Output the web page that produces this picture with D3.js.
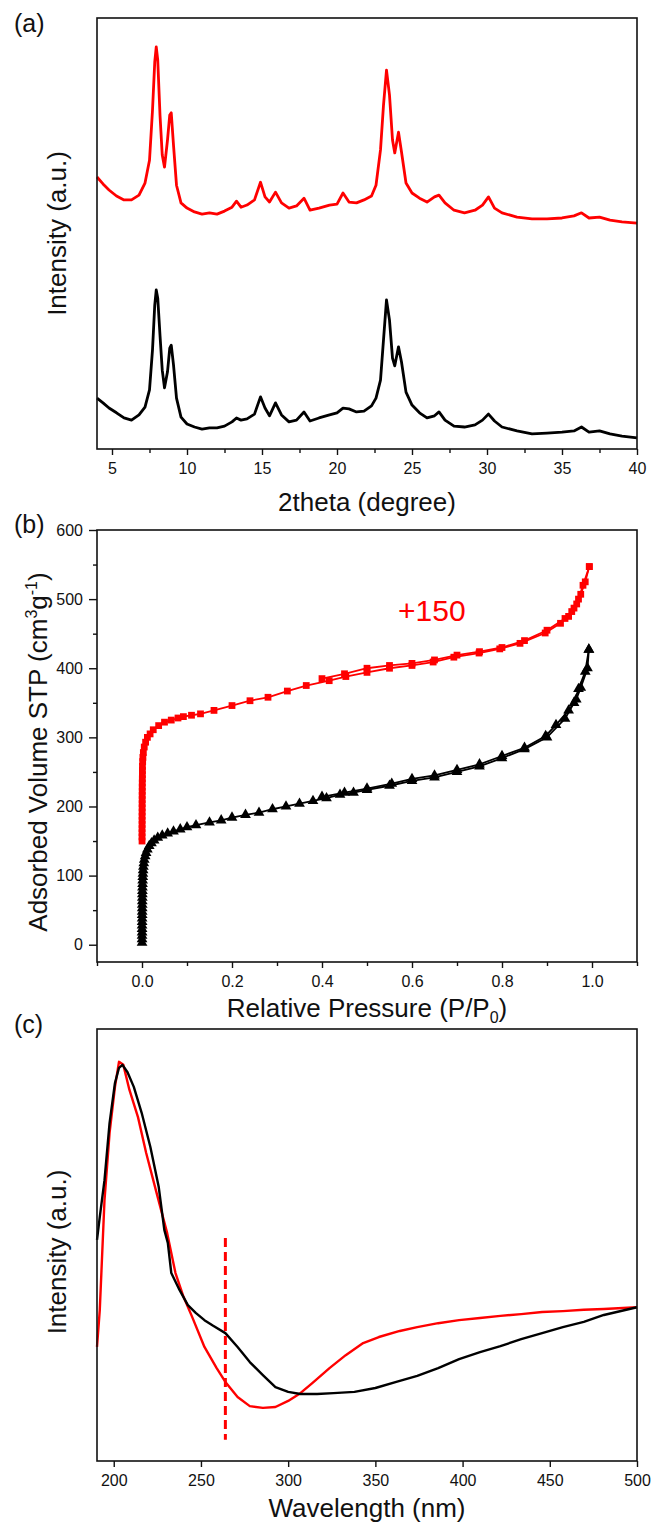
<!DOCTYPE html>
<html>
<head>
<meta charset="utf-8">
<script src="https://cdn.jsdelivr.net/npm/d3@7"></script>
<style>
  body { margin: 0; background: #fff; }
  svg { display: block; }
  text { font-family: "Liberation Sans", Arial, sans-serif; fill: #111; }
</style>
</head>
<body>
<svg id="fig" width="653" height="1528"></svg>
<script>
// ---------- (a) XRD patterns ----------
const xrdAngle = [4, 4.4, 4.8, 5.3, 5.8, 6.3, 6.8, 7.2, 7.5, 7.7, 7.85, 7.95, 8.05, 8.2, 8.35, 8.5, 8.7, 8.85, 8.95, 9.1,
  9.3, 9.6, 10, 10.5, 11, 11.5, 12, 12.5, 13, 13.3, 13.6, 14, 14.5, 14.9, 15.2, 15.5, 15.9, 16.3, 16.8, 17.3,
  17.8, 18.2, 18.8, 19.5, 20, 20.4, 20.8, 21.3, 21.8, 22.3, 22.6, 22.9, 23.1, 23.3, 23.5, 23.7, 23.85, 24.1, 24.3, 24.6,
  25, 25.5, 26, 26.5, 26.8, 27.2, 27.8, 28.5, 29.2, 29.7, 30.1, 30.5, 31, 32, 33, 34, 35, 35.8, 36.3, 36.8,
  37.5, 38.2, 39, 40];
const xrdBlack = [118, 107, 95, 84, 72, 67, 79, 97, 137, 230, 334, 369, 350, 264, 183, 142, 179, 234, 241, 195,
  118, 74, 58, 51, 46, 49, 49, 53, 63, 72, 67, 70, 81, 121, 95, 77, 107, 79, 63, 67,
  86, 65, 72, 79, 84, 95, 93, 86, 88, 100, 118, 160, 253, 346, 299, 211, 193, 237, 202, 132,
  102, 84, 72, 77, 86, 67, 53, 51, 56, 67, 81, 65, 51, 42, 35, 37, 39, 42, 51, 39,
  42, 35, 30, 26];
const xrdRed = [631, 615, 601, 587, 578, 578, 589, 617, 670, 786, 898, 933, 902, 775, 682, 654, 717, 775, 780, 705,
  612, 571, 559, 550, 545, 548, 545, 552, 561, 575, 561, 566, 578, 619, 585, 573, 596, 571, 559, 564,
  582, 554, 559, 566, 568, 594, 573, 571, 578, 587, 612, 694, 798, 879, 821, 717, 687, 735, 689, 617,
  594, 582, 573, 585, 589, 571, 554, 548, 554, 566, 585, 559, 548, 538, 534, 534, 536, 541, 548, 536,
  538, 531, 527, 524];
const xrdMajorTicks = [5, 10, 15, 20, 25, 30, 35, 40];
const xrdMinorTicks = [7.5, 12.5, 17.5, 22.5, 27.5, 32.5, 37.5];

// ---------- (b) N2 isotherms (P/P0, cm3/g) ----------
const blackAdsP = [0.0001, 0.0001, 0.0001, 0.0002, 0.0002, 0.0002, 0.0003, 0.0003, 0.0004, 0.0004, 0.0005, 0.0005, 0.0006,
  0.0007, 0.0008, 0.0009, 0.001, 0.0012, 0.0014, 0.0017, 0.002, 0.0025, 0.003, 0.004, 0.005, 0.007, 0.009, 0.012,
  0.016, 0.021, 0.027, 0.035, 0.045, 0.057, 0.07, 0.085, 0.1, 0.12, 0.15, 0.176, 0.2, 0.23, 0.26, 0.29, 0.32,
  0.35, 0.38, 0.41, 0.44, 0.47, 0.5, 0.55, 0.6, 0.65, 0.7, 0.75, 0.8, 0.85, 0.9, 0.94, 0.96, 0.97, 0.985, 0.993];
const blackAdsV = [3, 8, 13, 18, 23, 28, 33, 38, 43, 48, 53, 58, 63,
  68, 73, 78, 83, 88, 93, 98, 103, 108, 113, 118, 123, 128, 133, 138,
  143, 147, 151, 155, 158, 161, 164, 167, 170, 173, 177, 180, 184, 188, 191, 196, 200,
  204, 208, 212, 217, 220, 224, 230, 237, 242, 250, 258, 270, 283, 300, 327, 350, 370, 395, 427];
const blackDesP = [0.993, 0.99, 0.975, 0.965, 0.948, 0.92, 0.897, 0.85, 0.8, 0.75, 0.7, 0.65, 0.6, 0.555, 0.5, 0.45, 0.4];
const blackDesV = [427, 400, 372, 355, 339, 318, 302, 285, 273, 261, 253, 245, 240, 233, 226, 220, 214];

const redOffset = 150;
const redAdsP = [0.0001, 0.0001, 0.0001, 0.0001, 0.0002, 0.0002, 0.0002, 0.0003, 0.0003, 0.0003, 0.0004, 0.0004, 0.0005,
  0.0005, 0.0006, 0.0007, 0.0008, 0.0009, 0.001, 0.0015, 0.002, 0.003, 0.005, 0.008, 0.012, 0.018, 0.025, 0.037,
  0.05, 0.065, 0.08, 0.092, 0.11, 0.13, 0.16, 0.2, 0.24, 0.28, 0.323, 0.365, 0.416, 0.453, 0.5, 0.55, 0.6,
  0.647, 0.693, 0.749, 0.795, 0.84, 0.896, 0.93, 0.948, 0.96, 0.97, 0.98, 0.994];
const redAdsV = [0, 6, 12, 18, 24, 30, 36, 42, 48, 54, 60, 66, 72,
  78, 84, 90, 96, 102, 108, 115, 121, 128, 136, 143, 150, 155, 161, 167,
  172, 175, 178, 180, 182, 184, 189, 196, 203, 208, 217, 225, 232, 238, 244, 250, 254,
  259, 266, 272, 278, 286, 301, 315, 325, 337, 350, 370, 397];
const redDesP = [0.994, 0.985, 0.975, 0.966, 0.955, 0.94, 0.9, 0.85, 0.8, 0.75, 0.7, 0.65, 0.6, 0.55, 0.5, 0.45, 0.4];
const redDesV = [397, 375, 357, 343, 332, 322, 305, 290, 280, 274, 269, 262, 257, 254, 250, 242, 235];

const isoXMajor = [0, 0.2, 0.4, 0.6, 0.8, 1.0];
const isoXMinor = [-0.1, 0.1, 0.3, 0.5, 0.7, 0.9, 1.1];
const isoYMajor = [0, 100, 200, 300, 400, 500, 600];
const isoYMinor = [50, 150, 250, 350, 450, 550];

// ---------- (c) UV-vis spectra ----------
const uvRedNm = [190.4, 192, 194.7, 197.6, 200.7, 203, 205.5, 209, 213.9, 218.6, 224.6, 230.6, 235.4, 240, 245, 252,
  259, 264, 271, 278, 285.5, 292.7, 300, 307, 314, 323.7, 333, 343, 352, 364, 374, 386, 398, 410, 421.7, 433.6,
  445.6, 457.5, 469.5, 481, 500];
const uvRed = [26.4, 35.0, 60.4, 75.9, 86.6, 92.4, 91.7, 85.9, 79.6, 71.3, 62.0, 52.8, 43.5, 38.0, 33.3, 26.4,
  21.5, 18.3, 14.8, 12.7, 12.3, 12.5, 13.9, 15.7, 18.1, 21.5, 24.5, 27.3, 28.7, 30.1, 31.0, 31.9, 32.6, 33.1, 33.6, 34.0,
  34.5, 34.7, 35.0, 35.2, 35.6];
const uvBlackNm = [190.4, 192, 194.7, 197.6, 200.7, 203, 205, 207.9, 211.5, 216, 221, 225.8, 229, 231, 233, 237.7,
  242.5, 247, 252, 257, 264, 271, 278, 285.5, 292.7, 300, 307, 316.6, 326, 338, 350, 362, 374, 386, 398, 410,
  421.7, 433.6, 445.6, 457.5, 469.5, 481, 500];
const uvBlack = [51.2, 56.5, 65.0, 78.2, 87.5, 91.0, 91.7, 90.0, 86.6, 80.6, 72.7, 63.4, 53.5, 50.5, 43.5, 39.6,
  36.1, 34.3, 32.6, 31.3, 29.6, 26.4, 22.9, 19.9, 17.1, 16.0, 15.5, 15.5, 15.7, 16.0, 16.9, 18.3, 19.7, 21.5, 23.6, 25.2,
  26.6, 28.2, 29.6, 31.0, 32.2, 33.8, 35.6];
const uvMarkerNm = 264;
const uvMarkerRange = [4.9, 51.6];
const uvXTicks = [200, 250, 300, 350, 400, 450, 500];

// ---------- drawing ----------
const svg = d3.select("#fig");
const L = 97, R = 637;
const INK = "#111";
const RED = "#ff0000";
const panels = {
  a: { top: 18, bottom: 449 },
  b: { top: 530, bottom: 962 },
  c: { top: 1029, bottom: 1461 }
};

function frame(p) {
  svg.append("rect")
    .attr("x", L).attr("y", p.top)
    .attr("width", R - L).attr("height", p.bottom - p.top)
    .attr("fill", "none").attr("stroke", INK).attr("stroke-width", 1.6);
}

function styleAxis(g) {
  g.select(".domain").remove();
  g.selectAll(".tick line").attr("stroke", INK).attr("stroke-width", 1.4);
  g.selectAll(".tick text").attr("font-size", 16).attr("fill", INK)
    .attr("font-family", '"Liberation Sans", Arial, sans-serif');
}

function bottomAxis(scale, y, majors, minors, fmt) {
  const g = svg.append("g").attr("transform", `translate(0,${y})`)
    .call(d3.axisBottom(scale).tickValues(majors).tickSize(6).tickSizeOuter(0).tickPadding(8).tickFormat(fmt));
  styleAxis(g);
  if (minors && minors.length) {
    const m = svg.append("g").attr("transform", `translate(0,${y})`)
      .call(d3.axisBottom(scale).tickValues(minors).tickSize(4).tickSizeOuter(0).tickFormat(""));
    styleAxis(m);
  }
}

function leftAxis(scale, majors, minors, fmt) {
  const g = svg.append("g").attr("transform", `translate(${L},0)`)
    .call(d3.axisLeft(scale).tickValues(majors).tickSize(8).tickSizeOuter(0).tickPadding(6).tickFormat(fmt));
  styleAxis(g);
  const m = svg.append("g").attr("transform", `translate(${L},0)`)
    .call(d3.axisLeft(scale).tickValues(minors).tickSize(4).tickSizeOuter(0).tickFormat(""));
  styleAxis(m);
}

function xTitle(y, build) {
  const t = svg.append("text").attr("x", (L + R) / 2).attr("y", y)
    .attr("text-anchor", "middle").attr("font-size", 26);
  build(t);
}

function yTitle(x, y, build) {
  const t = svg.append("text").attr("transform", `translate(${x},${y}) rotate(-90)`)
    .attr("text-anchor", "middle").attr("font-size", 26);
  build(t);
}

function panelTag(label, y) {
  svg.append("text").attr("x", 14).attr("y", y).attr("font-size", 25).text(label);
}

// ----- panel (a)
{
  const p = panels.a;
  const x = d3.scaleLinear().domain([4, 40]).range([L, R]);
  const y = d3.scaleLinear().domain([0, 1000]).range([p.bottom, p.top]);
  const line = d3.line().x((d, i) => x(xrdAngle[i])).y(d => y(d)).curve(d3.curveLinear);
  svg.append("path").datum(xrdRed).attr("d", line)
    .attr("fill", "none").attr("stroke", RED).attr("stroke-width", 2.8).attr("stroke-linejoin", "round");
  svg.append("path").datum(xrdBlack).attr("d", line)
    .attr("fill", "none").attr("stroke", "#000").attr("stroke-width", 2.8).attr("stroke-linejoin", "round");
  frame(p);
  bottomAxis(x, p.bottom, xrdMajorTicks, xrdMinorTicks, d3.format("d"));
  xTitle(511, t => t.text("2theta (degree)"));
  yTitle(66, (p.top + p.bottom) / 2, t => t.text("Intensity (a.u.)"));
  panelTag("(a)", 32);
}

// ----- panel (b)
{
  const p = panels.b;
  const x = d3.scaleLinear().domain([-0.1, 1.1]).range([L, R]);
  const y = d3.scaleLinear().domain([-25, 600]).range([p.bottom, p.top]);
  const series = [
    { P: blackAdsP, V: blackAdsV, off: 0, color: "#000", sym: d3.symbolTriangle, size: 50 },
    { P: blackDesP, V: blackDesV, off: 0, color: "#000", sym: d3.symbolTriangle, size: 50 },
    { P: redAdsP, V: redAdsV, off: redOffset, color: RED, sym: d3.symbolSquare, size: 46 },
    { P: redDesP, V: redDesV, off: redOffset, color: RED, sym: d3.symbolSquare, size: 46 }
  ];
  series.forEach(s => {
    const pts = s.P.map((v, i) => [v, s.V[i] + s.off]);
    svg.append("path").datum(pts)
      .attr("d", d3.line().x(d => x(d[0])).y(d => y(d[1])))
      .attr("fill", "none").attr("stroke", s.color).attr("stroke-width", 1.8);
    svg.append("g").selectAll("path").data(pts).join("path")
      .attr("transform", d => `translate(${x(d[0])},${y(d[1])})`)
      .attr("d", d3.symbol().type(s.sym).size(s.size))
      .attr("fill", s.color);
  });
  svg.append("text").attr("x", 398).attr("y", 621).attr("font-size", 30)
    .style("fill", RED).text("+" + redOffset);
  frame(p);
  bottomAxis(x, p.bottom, isoXMajor, isoXMinor, d3.format(".1f"));
  leftAxis(y, isoYMajor, isoYMinor, d3.format("d"));
  xTitle(1017, t => {
    t.append("tspan").text("Relative Pressure (P/P");
    t.append("tspan").attr("font-size", 16).attr("dy", 6).text("0");
    t.append("tspan").attr("dy", -6).text(")");
  });
  yTitle(47, 752, t => {
    t.append("tspan").text("Adsorbed Volume STP (cm");
    t.append("tspan").attr("font-size", 16).attr("dy", -10).text("3");
    t.append("tspan").attr("dy", 10).text("g");
    t.append("tspan").attr("font-size", 16).attr("dy", -10).text("-1");
    t.append("tspan").attr("dy", 10).text(")");
  });
  panelTag("(b)", 533);
}

// ----- panel (c)
{
  const p = panels.c;
  const x = d3.scaleLinear().domain([190.4, 500]).range([L, R]);
  const y = d3.scaleLinear().domain([0, 100]).range([p.bottom, p.top]);
  const mk = (nm, v) => nm.map((w, i) => [w, v[i]]);
  const line = d3.line().x(d => x(d[0])).y(d => y(d[1]));
  svg.append("path").datum(mk(uvRedNm, uvRed)).attr("d", line)
    .attr("fill", "none").attr("stroke", RED).attr("stroke-width", 2.4).attr("stroke-linejoin", "round");
  svg.append("path").datum(mk(uvBlackNm, uvBlack)).attr("d", line)
    .attr("fill", "none").attr("stroke", "#000").attr("stroke-width", 2.4).attr("stroke-linejoin", "round");
  svg.append("line")
    .attr("x1", x(uvMarkerNm)).attr("x2", x(uvMarkerNm))
    .attr("y1", y(uvMarkerRange[1])).attr("y2", y(uvMarkerRange[0]))
    .attr("stroke", RED).attr("stroke-width", 3).attr("stroke-dasharray", "9,5");
  frame(p);
  bottomAxis(x, p.bottom, uvXTicks, [], d3.format("d"));
  xTitle(1517, t => t.text("Wavelength (nm)"));
  yTitle(66, 1252, t => t.text("Intensity (a.u.)"));
  panelTag("(c)", 1033);
}
</script>
</body>
</html>
